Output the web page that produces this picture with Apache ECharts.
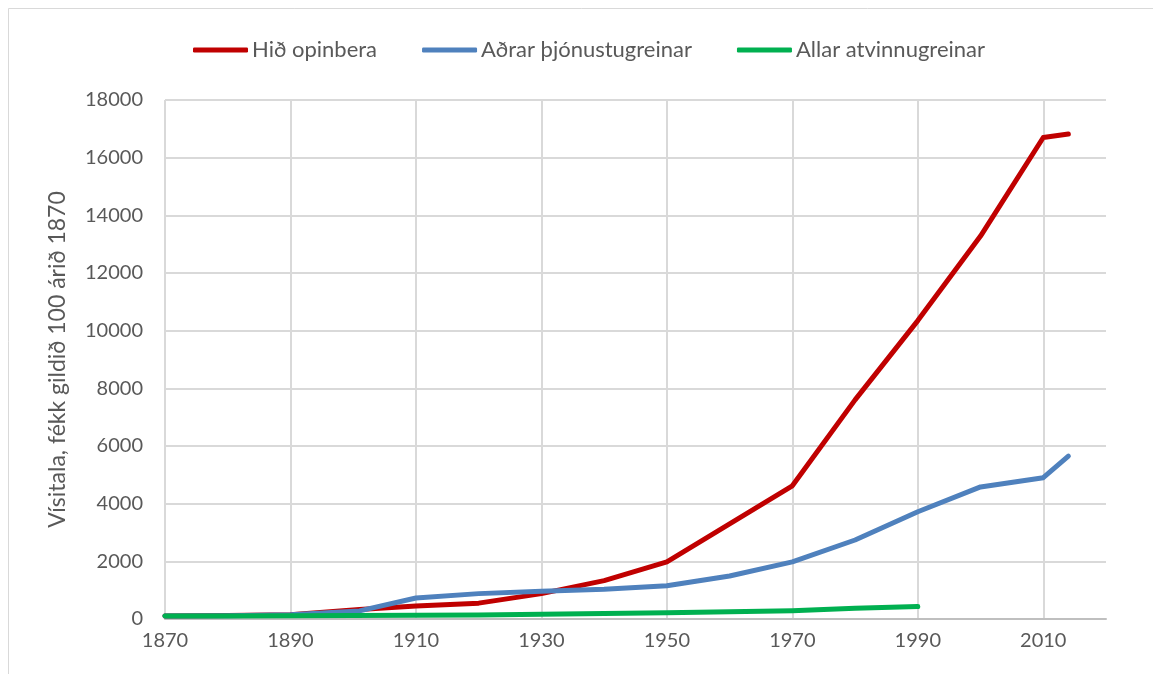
<!DOCTYPE html>
<html><head><meta charset="utf-8">
<script src="https://cdn.jsdelivr.net/npm/echarts@6/dist/echarts.min.js"></script>
<style>html,body{margin:0;padding:0;background:#fff}#c{width:1153px;height:674px}</style>
</head><body><div id="c"></div>
<script>
const seriesNames = ['Hið opinbera', 'Aðrar þjónustugreinar', 'Allar atvinnugreinar'];
const yearsLong = [1870, 1880, 1890, 1901, 1910, 1920, 1930, 1940, 1950, 1960, 1970, 1980, 1990, 2000, 2010, 2014];
const opinbera = [100, 120, 150, 330, 450, 550, 880, 1330, 1980, 3300, 4620, 7600, 10350, 13280, 16700, 16820];
const thjonusta = [100, 110, 150, 280, 730, 880, 960, 1030, 1150, 1490, 1980, 2740, 3720, 4580, 4900, 5650];
const yearsShort = [1870, 1880, 1890, 1900, 1910, 1920, 1930, 1940, 1950, 1960, 1970, 1980, 1990];
const allar = [100, 105, 110, 120, 130, 140, 165, 190, 220, 250, 290, 370, 430];
const yTitle = 'Vísitala, fékk gildið 100 árið 1870';

const zip = (xs, ys) => xs.map((x, i) => [x, ys[i]]);
const font = 'Lato, "Open Sans", sans-serif';
const txt = '#595959';
const chart = echarts.init(document.getElementById('c'));
chart.setOption({
  animation: false,
  backgroundColor: '#fff',
  graphic: [{type: 'rect', shape: {x: 8.5, y: 8.5, width: 1160, height: 700}, style: {fill: 'none', stroke: '#d9d9d9', lineWidth: 1}, silent: true}],
  legend: {
    top: 34, left: 188, itemWidth: 55, itemHeight: 5, itemGap: 45,
    icon: 'roundRect',
    textStyle: {fontFamily: font, fontSize: 22, color: txt, padding: [0, 0, 0, -1]},
    data: seriesNames
  },
  grid: {left: 165, right: 47, top: 100, bottom: 55, containLabel: false},
  xAxis: {
    type: 'value', min: 1870, max: 2020, interval: 20,
    axisLine: {show: true, lineStyle: {color: '#bfbfbf', width: 2}},
    axisTick: {show: false},
    axisLabel: {color: txt, fontFamily: font, fontSize: 20, margin: 12, showMaxLabel: false, formatter: v => String(v)},
    splitLine: {show: true, showMaxLine: false, lineStyle: {color: '#d9d9d9', width: 2}}
  },
  yAxis: {
    type: 'value', min: 0, max: 18000, interval: 2000,
    name: yTitle, nameLocation: 'middle', nameGap: 96,
    nameTextStyle: {color: txt, fontFamily: font, fontSize: 23},
    axisLine: {show: false}, axisTick: {show: false},
    axisLabel: {color: txt, fontFamily: font, fontSize: 20, margin: 22, formatter: v => String(v)},
    splitLine: {lineStyle: {color: '#d9d9d9', width: 2}}
  },
  series: [
    {name: seriesNames[0], type: 'line', data: zip(yearsLong, opinbera), showSymbol: false, lineStyle: {width: 5, color: '#c00000', cap: 'round', join: 'round'}, itemStyle: {color: '#c00000'}, z: 3},
    {name: seriesNames[1], type: 'line', data: zip(yearsLong, thjonusta), showSymbol: false, lineStyle: {width: 5, color: '#4f81bd', cap: 'round', join: 'round'}, itemStyle: {color: '#4f81bd'}, z: 4},
    {name: seriesNames[2], type: 'line', data: zip(yearsShort, allar), showSymbol: false, lineStyle: {width: 5, color: '#00b050', cap: 'round', join: 'round'}, itemStyle: {color: '#00b050'}, z: 5}
  ]
});
</script></body></html>
